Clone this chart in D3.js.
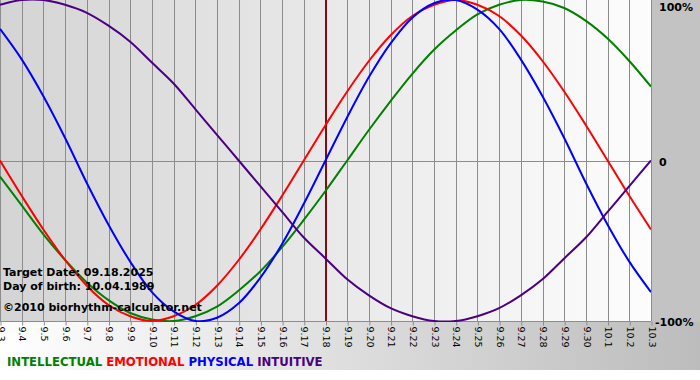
<!DOCTYPE html>
<html><head><meta charset="utf-8">
<script src="https://cdn.jsdelivr.net/npm/d3@7"></script>
<style>html,body{margin:0;padding:0;background:#fff;}svg{display:block;}</style>
</head><body>
<svg id="c" width="700" height="380"></svg>
<script>
// Day labels (Sep 3 .. Oct 3, 2025)
const days = ["9.3","9.4","9.5","9.6","9.7","9.8","9.9","9.10","9.11","9.12","9.13","9.14","9.15","9.16","9.17","9.18","9.19","9.20","9.21","9.22","9.23","9.24","9.25","9.26","9.27","9.28","9.29","9.30","10.1","10.2","10.3"];
const targetDay = "9.18";
const physical = [0.82,0.63,0.40,0.14,-0.14,-0.40,-0.63,-0.82,-0.94,-1.00,-0.98,-0.89,-0.73,-0.52,-0.27,0.00,0.27,0.52,0.73,0.89,0.98,1.00,0.94,0.82,0.63,0.40,0.14,-0.14,-0.40,-0.63,-0.82];
const emotional = [0.00,-0.22,-0.43,-0.62,-0.78,-0.90,-0.97,-1.00,-0.97,-0.90,-0.78,-0.62,-0.43,-0.22,0.00,0.22,0.43,0.62,0.78,0.90,0.97,1.00,0.97,0.90,0.78,0.62,0.43,0.22,0.00,-0.22,-0.43];
const intellectual = [-0.10,-0.28,-0.46,-0.62,-0.76,-0.87,-0.95,-0.99,-1.00,-0.97,-0.91,-0.81,-0.69,-0.54,-0.37,-0.19,0.00,0.19,0.37,0.54,0.69,0.81,0.91,0.97,1.00,0.99,0.95,0.87,0.76,0.62,0.46];
const intuitive = [0.97,1.00,1.00,0.97,0.92,0.84,0.74,0.61,0.48,0.32,0.16,0.00,-0.16,-0.32,-0.48,-0.61,-0.74,-0.84,-0.92,-0.97,-1.00,-1.00,-0.97,-0.92,-0.84,-0.74,-0.61,-0.48,-0.32,-0.16,0.00];
const yLabels = [{v:1,t:"100%"},{v:0,t:"0"},{v:-1,t:"-100%"}];
const infoLines = ["Target Date: 09.18.2025","Day of birth: 10.04.1989","©2010 biorhythm-calculator.net"];
const series = [
  {name:"INTELLECTUAL", values:intellectual, color:"#008000"},
  {name:"EMOTIONAL", values:emotional, color:"#ff0000"},
  {name:"PHYSICAL", values:physical, color:"#0000ff"},
  {name:"INTUITIVE", values:intuitive, color:"#4b0082"}
];

const svg = d3.select("#c");
const W = 700, H = 380;
const plot = {x0:0, x1:651, y0:0, y1:321};

const defs = svg.append("defs");
const g1 = defs.append("linearGradient").attr("id","bg").attr("x1","0").attr("x2","1").attr("y1","0").attr("y2","0");
g1.append("stop").attr("offset","0").attr("stop-color","#ffffff");
g1.append("stop").attr("offset","1").attr("stop-color","#bcbcbc");
const g2 = defs.append("linearGradient").attr("id","pbg").attr("x1","0").attr("x2","1").attr("y1","0").attr("y2","0");
g2.append("stop").attr("offset","0").attr("stop-color","#d4d4d4");
g2.append("stop").attr("offset","1").attr("stop-color","#fdfdfd");
defs.append("clipPath").attr("id","clip").append("rect")
  .attr("x",plot.x0).attr("y",plot.y0-2).attr("width",plot.x1-plot.x0).attr("height",plot.y1-plot.y0+3);

svg.append("rect").attr("x",0).attr("y",0).attr("width",W).attr("height",370).attr("fill","url(#bg)");
svg.append("rect").attr("x",plot.x1).attr("y",0).attr("width",W-plot.x1).attr("height",plot.y1+1).attr("fill","#c3c3c3");
svg.append("rect").attr("x",plot.x0).attr("y",plot.y0).attr("width",plot.x1-plot.x0).attr("height",plot.y1-plot.y0).attr("fill","url(#pbg)");

const x = d3.scalePoint().domain(days).range([plot.x0, plot.x1]);
const y = d3.scaleLinear().domain([-1,1]).range([plot.y1, plot.y0]);

// vertical grid
svg.append("g").selectAll("line").data(days).join("line")
  .attr("x1",d=>Math.round(x(d))+0.5).attr("x2",d=>Math.round(x(d))+0.5)
  .attr("y1",plot.y0).attr("y2",plot.y1)
  .attr("stroke","#8c8c8c").attr("stroke-width",1);
// zero line
svg.append("line").attr("x1",plot.x0).attr("x2",plot.x1)
  .attr("y1",Math.round(y(0))+0.5).attr("y2",Math.round(y(0))+0.5)
  .attr("stroke","#8c8c8c");

// x axis
const xAxis = d3.axisBottom(x).tickSize(4).tickPadding(2);
const ax = svg.append("g").attr("transform",`translate(0.5,${plot.y1+0.5})`).call(xAxis);
ax.select(".domain").attr("stroke","#8c8c8c").attr("d",`M${plot.x0-0.5},0H${plot.x1-0.5}`);
ax.selectAll(".tick line").attr("stroke","#8c8c8c");
ax.selectAll(".tick text")
  .attr("font-family","Verdana, 'DejaVu Sans', sans-serif").attr("font-size",9.5).attr("fill","#000")
  .attr("transform","rotate(90)").attr("text-anchor","start")
  .attr("x",5).attr("y",0).attr("dy","0.35em");

// target line
svg.append("line").attr("x1",x(targetDay)+0.5).attr("x2",x(targetDay)+0.5)
  .attr("y1",plot.y0).attr("y2",plot.y1)
  .attr("stroke","#7a1010").attr("stroke-width",2);

// curves
const line = d3.line().x((d,i)=>x(days[i])).y(d=>y(d)).curve(d3.curveCatmullRom.alpha(0.5));
svg.append("g").attr("clip-path","url(#clip)").selectAll("path").data(series).join("path")
  .attr("d",s=>line(s.values)).attr("fill","none")
  .attr("stroke",s=>s.color).attr("stroke-width",2);

// y labels
svg.append("g").selectAll("text").data(yLabels).join("text")
  .attr("x",d=>d.v===0?659:(d.v===1?659:655))
  .attr("y",d=>d.v===1?7:(d.v===0?y(0)+2:plot.y1+1))
  .attr("dy","0.35em")
  .attr("font-family","Verdana, 'DejaVu Sans', sans-serif").attr("font-weight","bold").attr("font-size",11)
  .attr("fill","#000").text(d=>d.t);

// info text
svg.append("g").selectAll("text").data(infoLines).join("text")
  .attr("x",3).attr("y",(d,i)=>[276,290,311][i])
  .attr("font-family","Verdana, 'DejaVu Sans', sans-serif").attr("font-weight","bold").attr("font-size",11)
  .attr("fill","#000").text(d=>d);

// legend
const lg = svg.append("text").attr("x",7).attr("y",366)
  .attr("font-family","Tahoma, 'DejaVu Sans Condensed', sans-serif").attr("font-weight","bold").attr("font-size",13);
series.forEach((s,i)=>{
  lg.append("tspan").attr("fill",s.color).text((i?" ":"")+s.name);
});
</script>
</body></html>
